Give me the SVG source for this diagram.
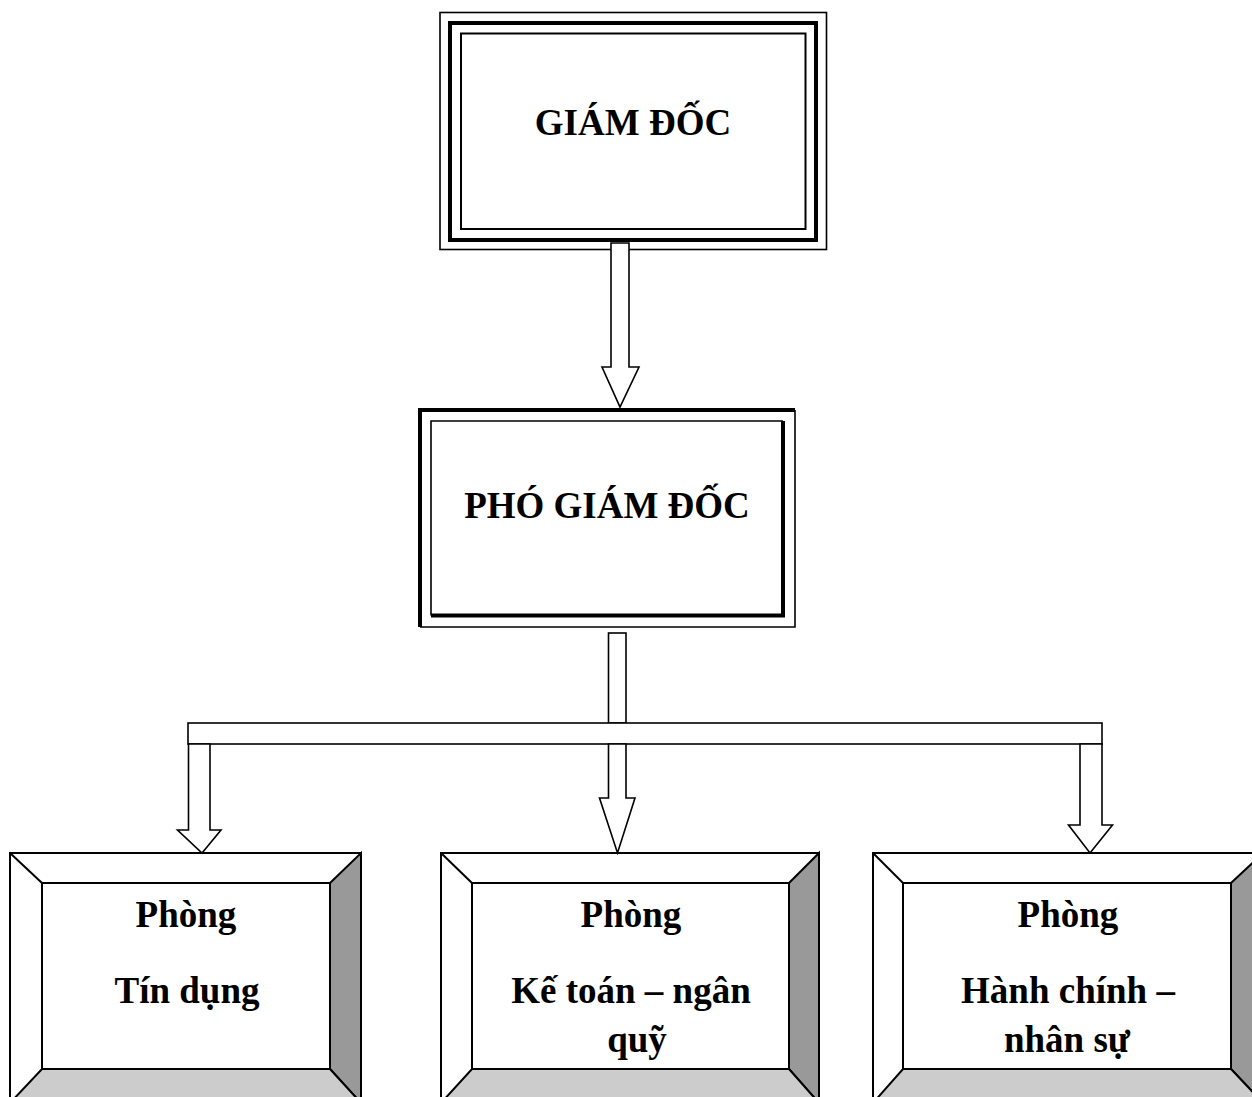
<svg xmlns="http://www.w3.org/2000/svg" width="1252" height="1097" viewBox="0 0 1252 1097">
<style>
  .t { font-family: "Liberation Serif", "Times New Roman", serif; font-weight: bold; font-size: 37px; fill: #000; text-anchor: middle; }
  .ln { fill: none; stroke: #000; }
  .arr { fill: #fff; stroke: #000; stroke-width: 1.6; stroke-linejoin: miter; }
  .bev { stroke: #000; stroke-width: 2; stroke-linejoin: miter; }
</style>
<rect x="0" y="0" width="1252" height="1097" fill="#fff"/>

<g id="giam-doc">
  <rect x="440" y="12.5" width="386.5" height="237" class="ln" stroke-width="1.6"/>
  <rect x="450" y="23" width="366" height="217" class="ln" stroke-width="4"/>
  <rect x="461" y="33.5" width="344.5" height="195.5" class="ln" stroke-width="2"/>
  <text x="633" y="135" class="t">GIÁM ĐỐC</text>
</g>

<g id="pho-giam-doc">
  <path d="M420 627 V410 H795" class="ln" stroke-width="4"/>
  <path d="M795 410 V627 H420" class="ln" stroke-width="1.6"/>
  <path d="M431 615.5 V421 H783" class="ln" stroke-width="1.6"/>
  <path d="M783 421 V615.5 H431" class="ln" stroke-width="4"/>
  <text x="607" y="518" class="t">PHÓ GIÁM ĐỐC</text>
</g>

<g id="phong-tin-dung">
  <rect x="10" y="853" width="351" height="250" fill="#fff" class="bev"/>
  <polygon points="330,883 361,853 361,1103 330,1069" fill="#999999" class="bev"/>
  <polygon points="42,1069 330,1069 361,1103 10,1103" fill="#cccccc" class="bev"/>
  <line x1="10" y1="853" x2="42" y2="883" class="bev"/>
  <rect x="42" y="883" width="288" height="186" fill="#fff" class="bev"/>
  <text x="186" y="927" class="t">Phòng</text>
  <text x="187" y="1003" class="t">Tín dụng</text>
</g>

<g id="phong-ke-toan">
  <rect x="441" y="853" width="378" height="250" fill="#fff" class="bev"/>
  <polygon points="789,883 819,853 819,1103 789,1069" fill="#999999" class="bev"/>
  <polygon points="472,1069 789,1069 819,1103 441,1103" fill="#cccccc" class="bev"/>
  <line x1="441" y1="853" x2="472" y2="883" class="bev"/>
  <rect x="472" y="883" width="317" height="186" fill="#fff" class="bev"/>
  <text x="631" y="927" class="t">Phòng</text>
  <text x="631" y="1003" class="t">Kế toán – ngân</text>
  <text x="637" y="1052" class="t">quỹ</text>
</g>

<g id="phong-hanh-chinh">
  <rect x="873" y="853" width="390" height="250" fill="#fff" class="bev"/>
  <polygon points="1231,883 1263,853 1263,1103 1231,1069" fill="#999999" class="bev"/>
  <polygon points="903,1069 1231,1069 1263,1103 873,1103" fill="#cccccc" class="bev"/>
  <line x1="873" y1="853" x2="903" y2="883" class="bev"/>
  <rect x="903" y="883" width="328" height="186" fill="#fff" class="bev"/>
  <text x="1068" y="927" class="t">Phòng</text>
  <text x="1068" y="1003" class="t">Hành chính –</text>
  <text x="1067" y="1052" class="t">nhân sự</text>
</g>

<g id="connectors">
  <polygon points="611,243 629,243 629,367 639,367 620,407 602,367 611,367" class="arr"/>
  <rect x="608.5" y="633" width="17.5" height="90" class="arr"/>
  <rect x="188" y="723" width="914" height="21" class="arr" stroke-width="2"/>
  <polygon points="188.5,744 210,744 210,830 221,830 202,853 177.5,830 188.5,830" class="arr"/>
  <polygon points="608.5,744 626,744 626,798 635,798 617.5,853 599.5,798 608.5,798" class="arr"/>
  <polygon points="1080,744 1102,744 1102,825 1112.5,825 1090,853 1068.5,825 1080,825" class="arr"/>
</g>
</svg>
